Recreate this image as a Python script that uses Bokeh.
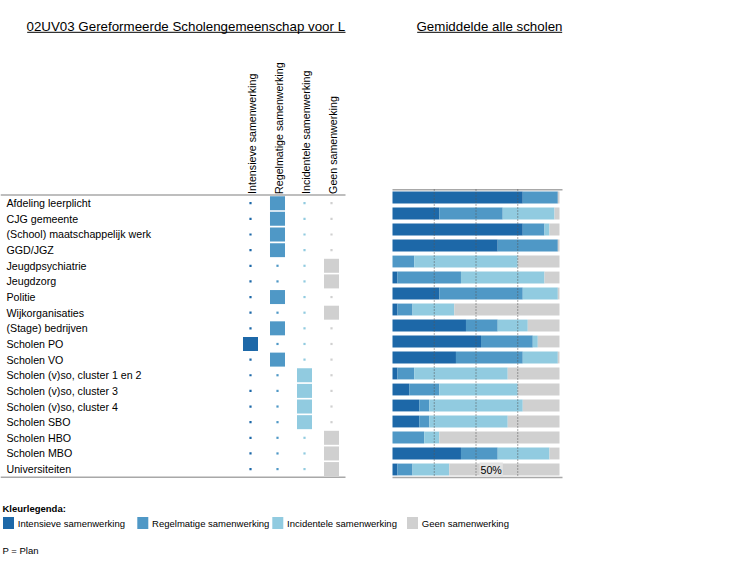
import math
from bokeh.plotting import figure
from bokeh.models import Range1d, ColumnDataSource
from bokeh.core.properties import value
from bokeh.transform import stack
from bokeh.embed import file_html
from bokeh.resources import INLINE

# ---------------- data ----------------
school_title = "02UV03 Gereformeerde Scholengemeenschap voor L"
avg_title = "Gemiddelde alle scholen"

partners = [
    "Afdeling leerplicht", "CJG gemeente", "(School) maatschappelijk werk", "GGD/JGZ",
    "Jeugdpsychiatrie", "Jeugdzorg", "Politie", "Wijkorganisaties", "(Stage) bedrijven",
    "Scholen PO", "Scholen VO", "Scholen (v)so, cluster 1 en 2", "Scholen (v)so, cluster 3",
    "Scholen (v)so, cluster 4", "Scholen SBO", "Scholen HBO", "Scholen MBO", "Universiteiten",
]
levels = ["Intensieve samenwerking", "Regelmatige samenwerking",
          "Incidentele samenwerking", "Geen samenwerking"]
level_keys = ["intensief", "regelmatig", "incidenteel", "geen"]
colors = ["#1d68a8", "#4f98c6", "#91cbe0", "#d0d0d0"]

# level of cooperation of this school (index into levels)
school_level = [1, 1, 1, 1, 3, 3, 1, 3, 1, 0, 1, 2, 2, 2, 2, 3, 3, 3]

# average of all schools (percent)
avg_intensief   = [78, 28, 78, 63, 0, 3, 28, 3, 44, 53, 38, 3, 10, 16, 16, 0, 41, 3]
avg_regelmatig  = [21, 38, 13, 36, 13, 38, 50, 9, 19, 31, 40, 10, 18, 6, 6, 19, 22, 9]
avg_incidenteel = [0, 31, 3, 0, 62, 50, 21, 25, 18, 3, 21, 56, 47, 56, 47, 9, 31, 22]
avg_geen        = [1, 3, 6, 1, 25, 9, 1, 63, 19, 13, 1, 31, 25, 22, 31, 72, 6, 66]

ref_ticks = [25, 50, 75]
ref_label = "50%"

legend_title = "Kleurlegenda:"
footnote = "P = Plan"

# ---------------- figure ----------------
W, H = 747, 564
p = figure(width=W, height=H, x_range=Range1d(0, W), y_range=Range1d(H, 0),
           output_backend="svg", toolbar_location=None, min_border=0,
           x_axis_type=None, y_axis_type=None)
p.grid.visible = False
p.outline_line_color = None
p.background_fill_color = "white"
p.border_fill_color = "white"

FONT = value("Liberation Sans")
n = len(partners)
idx = list(range(n))

src = ColumnDataSource(dict(
    idx=idx, partner=partners,
    intensief=avg_intensief, regelmatig=avg_regelmatig,
    incidenteel=avg_incidenteel, geen=avg_geen,
))

# ---------- titles ----------
p.text(x=[26], y=[25.6], text=[school_title], text_font=FONT, text_font_size="13.33px",
       text_baseline="middle", text_color="#000000")
p.segment(x0=[26.7], x1=[345], y0=[31.8], y1=[31.8], line_color="#000000", line_width=1)
p.text(x=[416], y=[25.6], text=[avg_title], text_font=FONT, text_font_size="13.33px",
       text_baseline="middle", text_color="#000000")
p.segment(x0=[416.7], x1=[561.7], y0=[31.8], y1=[31.8], line_color="#000000", line_width=1)

# ---------- left table ----------
tbl = p.subplot(x_source=Range1d(-0.5, 3.5), y_source=Range1d(-0.5, n - 0.5),
                x_target=Range1d(236.5, 344.5), y_target=Range1d(194.9, 476.4))
lab = p.subplot(x_source=Range1d(0, W), y_source=Range1d(-0.5, n - 0.5),
                x_target=Range1d(0, W), y_target=Range1d(194.9, 476.4))

big = dict(col=[], row=[], color=[])
dots = dict(col=[], row=[], color=[])
for r, lvl in enumerate(school_level):
    for c in range(len(levels)):
        d = big if c == lvl else dots
        d["col"].append(c)
        d["row"].append(r)
        d["color"].append(colors[c])

p.segment(x0=[0, 0], x1=[345, 345], y0=[194.6, 476.7], y1=[194.6, 476.7],
          line_color="#a8a8a8", line_width=1.5)

tbl.rect(x="col", y="row", width=0.556, height=0.895, color="color",
         line_color=None, source=ColumnDataSource(big))
tbl.rect(x="col", y="row", width=2.2, height=2.2, width_units="screen",
         height_units="screen", color="color", line_color=None,
         source=ColumnDataSource(dots))

lab.text(x=6, y="idx", text="partner", source=src, text_font=FONT,
         text_font_size="10.67px", text_baseline="middle", y_offset=0,
         text_color="#000000")

tbl.text(x=list(range(len(levels))), y=[-0.5] * len(levels), text=levels,
         angle=math.pi / 2, text_align="left", text_baseline="middle",
         x_offset=1.5, y_offset=-1.5, text_font=FONT, text_font_size="10.67px",
         text_color="#000000")

# ---------- right bar chart ----------
bars = p.subplot(x_source=Range1d(0, 100), y_source=Range1d(-0.5, n - 0.5),
                 x_target=Range1d(392, 559), y_target=Range1d(189, 477))

for i, key in enumerate(level_keys):
    bars.hbar(y="idx", left=stack(*level_keys[:i]), right=stack(*level_keys[:i + 1]),
              height=0.74, fill_color=colors[i], line_color=None, source=src)

p.segment(x0=[392, 392], x1=[562, 562], y0=[189.3, 477], y1=[189.3, 477],
          line_color="#a8a8a8", line_width=1.5)

bars.segment(x0=ref_ticks, x1=ref_ticks, y0=[-0.5] * len(ref_ticks),
             y1=[n - 0.5] * len(ref_ticks), line_color="#555555",
             line_dash="1 2", line_width=1)

bars.text(x=[ref_ticks[1]], y=[n - 1], text=[ref_label], text_font=FONT,
          text_font_size="10.67px", text_baseline="middle", x_offset=3.5,
          text_color="#000000", background_fill_color="#e2e2e2", padding=1)

# ---------- legend ----------
LEG = "9.5px"
p.text(x=[2], y=[508.3], text=[legend_title], text_font=FONT, text_font_style="bold",
       text_font_size=LEG, text_baseline="middle", text_color="#000000")
sw_x = [8, 142.3, 277.3, 412]
p.rect(x=sw_x, y=[522.5] * 4, width=11, height=12, fill_color=colors, line_color=None)
p.text(x=[x + 9.3 for x in sw_x], y=[523.2] * 4, text=levels, text_font=FONT,
       text_font_size=LEG, text_baseline="middle", text_color="#000000")
p.text(x=[2], y=[550.2], text=[footnote], text_font=FONT,
       text_font_size=LEG, text_baseline="middle", text_color="#000000")

open("out.html", "w").write(file_html(p, INLINE))
